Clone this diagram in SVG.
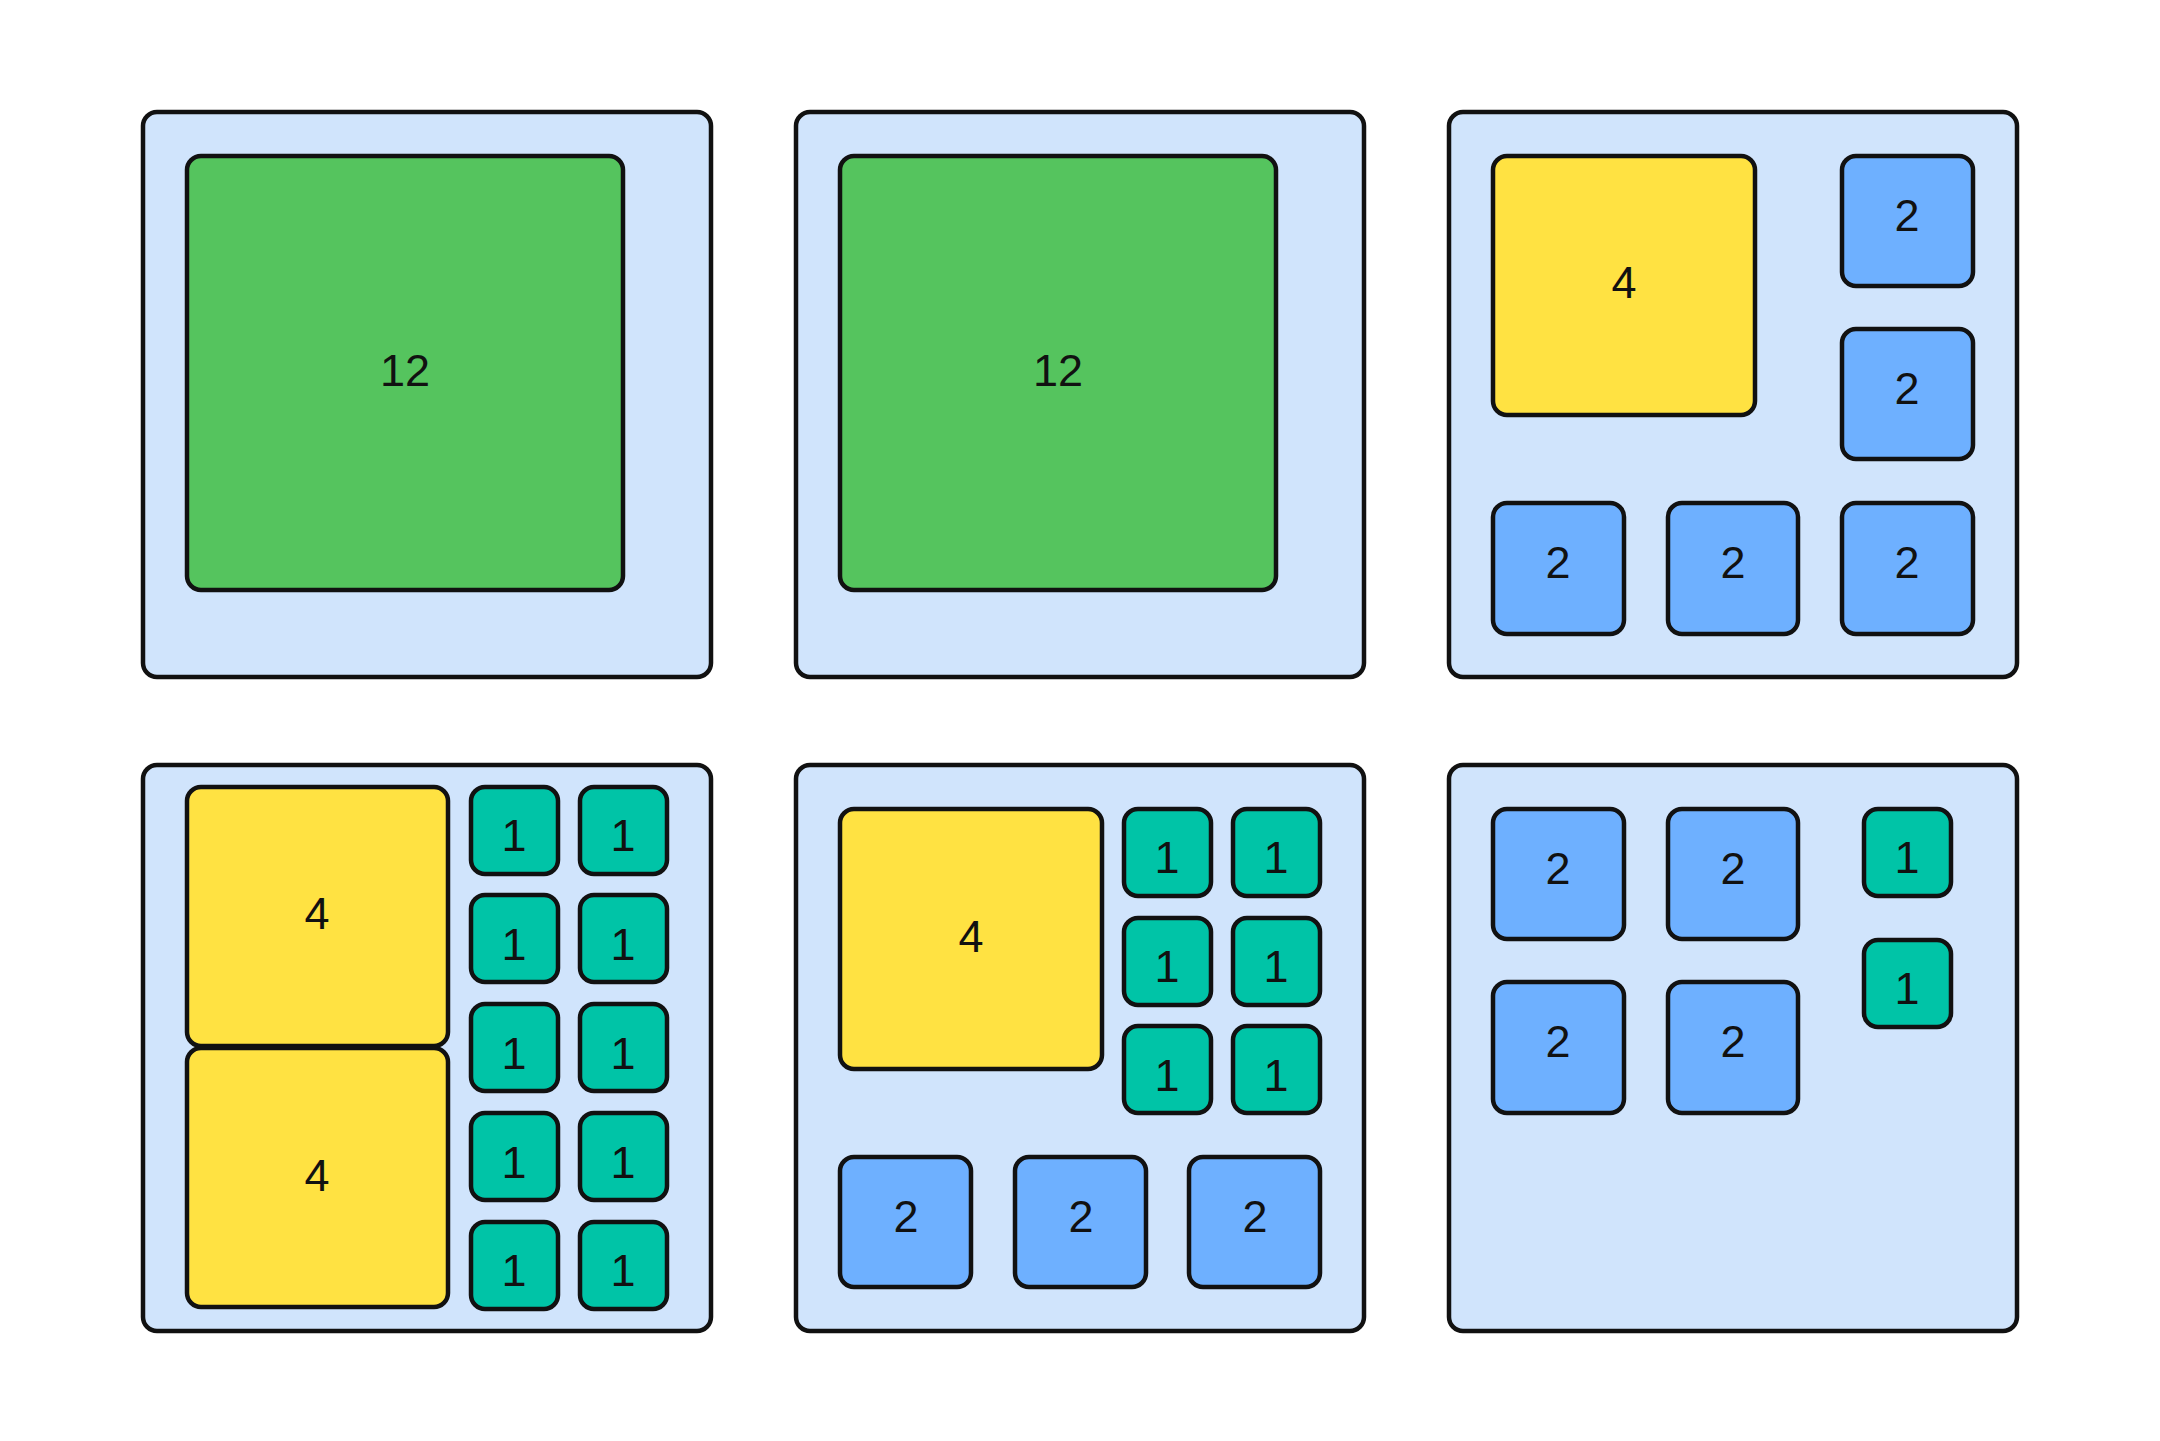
<svg xmlns="http://www.w3.org/2000/svg" width="2160" height="1441" viewBox="0 0 2160 1441">
<style>
.panel{fill:#D0E4FC;stroke:#111;stroke-width:4.5}
.g{fill:#55C45E;stroke:#111;stroke-width:4.5}
.y{fill:#FFE242;stroke:#111;stroke-width:4.5}
.b{fill:#6EB0FF;stroke:#111;stroke-width:4.5}
.t{fill:#00C4A7;stroke:#111;stroke-width:4.5}
text{font-family:"Liberation Sans",Arial,sans-serif;font-size:45px;fill:#111;text-anchor:middle;dominant-baseline:central}
</style>
<rect width="2160" height="1441" fill="#fff"/>
<g id="panel1">
<rect class="panel" x="143" y="112" width="568" height="565" rx="14"/>
<g id="p1-n12"><rect class="g" x="187" y="156" width="436" height="434" rx="14"/><text x="405" y="370">12</text></g>
</g>
<g id="panel2">
<rect class="panel" x="796" y="112" width="568" height="565" rx="14"/>
<g id="p2-n12"><rect class="g" x="840" y="156" width="436" height="434" rx="14"/><text x="1058" y="370">12</text></g>
</g>
<g id="panel3">
<rect class="panel" x="1449" y="112" width="568" height="565" rx="14"/>
<g id="p3-n4"><rect class="y" x="1493" y="156" width="262" height="259" rx="14"/><text x="1624" y="282">4</text></g>
<g id="p3-a"><rect class="b" x="1842" y="156" width="131" height="130" rx="14"/><text x="1907" y="215">2</text></g>
<g id="p3-b"><rect class="b" x="1842" y="329" width="131" height="130" rx="14"/><text x="1907" y="388">2</text></g>
<g id="p3-c"><rect class="b" x="1493" y="503" width="131" height="131" rx="14"/><text x="1558" y="562">2</text></g>
<g id="p3-d"><rect class="b" x="1668" y="503" width="130" height="131" rx="14"/><text x="1733" y="562">2</text></g>
<g id="p3-e"><rect class="b" x="1842" y="503" width="131" height="131" rx="14"/><text x="1907" y="562">2</text></g>
</g>
<g id="panel4">
<rect class="panel" x="143" y="765" width="568" height="566" rx="14"/>
<g id="p4-n4a"><rect class="y" x="187" y="787" width="261" height="259" rx="14"/><text x="317" y="913">4</text></g>
<g id="p4-n4b"><rect class="y" x="187" y="1048" width="261" height="259" rx="14"/><text x="317" y="1175">4</text></g>
<g id="p4-1a"><rect class="t" x="471" y="787" width="87" height="87" rx="14"/><text x="514" y="835">1</text></g>
<g id="p4-1b"><rect class="t" x="580" y="787" width="87" height="87" rx="14"/><text x="623" y="835">1</text></g>
<g id="p4-1c"><rect class="t" x="471" y="895" width="87" height="87" rx="14"/><text x="514" y="944">1</text></g>
<g id="p4-1d"><rect class="t" x="580" y="895" width="87" height="87" rx="14"/><text x="623" y="944">1</text></g>
<g id="p4-1e"><rect class="t" x="471" y="1004" width="87" height="87" rx="14"/><text x="514" y="1053">1</text></g>
<g id="p4-1f"><rect class="t" x="580" y="1004" width="87" height="87" rx="14"/><text x="623" y="1053">1</text></g>
<g id="p4-1g"><rect class="t" x="471" y="1113" width="87" height="87" rx="14"/><text x="514" y="1162">1</text></g>
<g id="p4-1h"><rect class="t" x="580" y="1113" width="87" height="87" rx="14"/><text x="623" y="1162">1</text></g>
<g id="p4-1i"><rect class="t" x="471" y="1222" width="87" height="87" rx="14"/><text x="514" y="1270">1</text></g>
<g id="p4-1j"><rect class="t" x="580" y="1222" width="87" height="87" rx="14"/><text x="623" y="1270">1</text></g>
</g>
<g id="panel5">
<rect class="panel" x="796" y="765" width="568" height="566" rx="14"/>
<g id="p5-n4"><rect class="y" x="840" y="809" width="262" height="260" rx="14"/><text x="971" y="936">4</text></g>
<g id="p5-1a"><rect class="t" x="1124" y="809" width="87" height="87" rx="14"/><text x="1167" y="857">1</text></g>
<g id="p5-1b"><rect class="t" x="1233" y="809" width="87" height="87" rx="14"/><text x="1276" y="857">1</text></g>
<g id="p5-1c"><rect class="t" x="1124" y="918" width="87" height="87" rx="14"/><text x="1167" y="966">1</text></g>
<g id="p5-1d"><rect class="t" x="1233" y="918" width="87" height="87" rx="14"/><text x="1276" y="966">1</text></g>
<g id="p5-1e"><rect class="t" x="1124" y="1026" width="87" height="87" rx="14"/><text x="1167" y="1075">1</text></g>
<g id="p5-1f"><rect class="t" x="1233" y="1026" width="87" height="87" rx="14"/><text x="1276" y="1075">1</text></g>
<g id="p5-2a"><rect class="b" x="840" y="1157" width="131" height="130" rx="14"/><text x="906" y="1216">2</text></g>
<g id="p5-2b"><rect class="b" x="1015" y="1157" width="131" height="130" rx="14"/><text x="1081" y="1216">2</text></g>
<g id="p5-2c"><rect class="b" x="1189" y="1157" width="131" height="130" rx="14"/><text x="1255" y="1216">2</text></g>
</g>
<g id="panel6">
<rect class="panel" x="1449" y="765" width="568" height="566" rx="14"/>
<g id="p6-2a"><rect class="b" x="1493" y="809" width="131" height="130" rx="14"/><text x="1558" y="868">2</text></g>
<g id="p6-2b"><rect class="b" x="1668" y="809" width="130" height="130" rx="14"/><text x="1733" y="868">2</text></g>
<g id="p6-2c"><rect class="b" x="1493" y="982" width="131" height="131" rx="14"/><text x="1558" y="1041">2</text></g>
<g id="p6-2d"><rect class="b" x="1668" y="982" width="130" height="131" rx="14"/><text x="1733" y="1041">2</text></g>
<g id="p6-1a"><rect class="t" x="1864" y="809" width="87" height="87" rx="14"/><text x="1907" y="857">1</text></g>
<g id="p6-1b"><rect class="t" x="1864" y="940" width="87" height="87" rx="14"/><text x="1907" y="988">1</text></g>
</g>
<g id="connectors"></g>
</svg>
